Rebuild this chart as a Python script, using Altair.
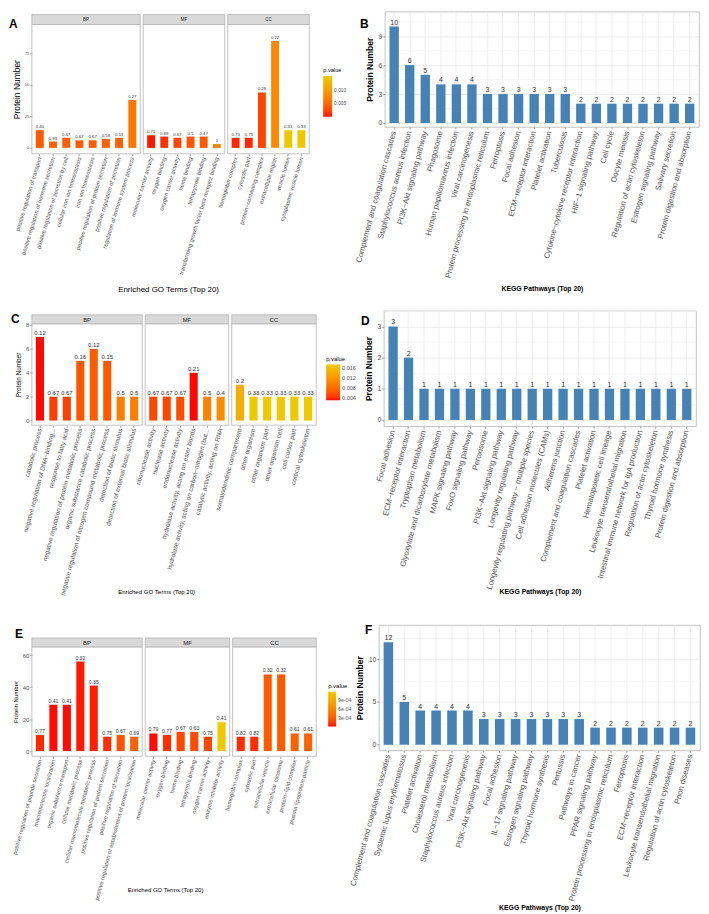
import altair as alt
import pandas as pd

FONT = "Liberation Sans"
GREY = "#555555"
BORDER = "#b3b3b3"
LOW, HIGH = "#FF0000", "#EEC900"
STEEL = "#4682B4"

# ---------------- Panel A : GO ----------------
A_BP_terms = ["positive regulation of transport", "positive regulation of hormone secretion",
              "positive regulation of secretion by cell", "cellular iron ion homeostasis",
              "iron ion homeostasis", "positive regulation of protein secretion",
              "positive regulation of secretion", "regulation of immune system process"]
A_BP_counts = [14, 5, 8, 6, 6, 7, 8, 38]
A_BP_ratio = ["0.40", "0.83", "0.67", "0.67", "0.67", "0.58", "0.53", "0.27"]
A_BP_p = [0.004, 0.0045, 0.0042, 0.0042, 0.0042, 0.0045, 0.0045, 0.0065]

A_MF_terms = ["molecular carrier activity", "oxygen binding", "oxygen carrier activity",
              "heme binding", "tetrapyrrole binding",
              "transforming growth factor beta receptor binding"]
A_MF_counts = [10, 9, 8, 9, 9, 3]
A_MF_ratio = ["0.71", "0.69", "0.67", "0.5", "0.47", "1"]
A_MF_p = [0.0005, 0.0015, 0.0025, 0.0035, 0.004, 0.0075]

A_CC_terms = ["hemoglobin complex", "cytosolic part", "protein−containing complex",
              "extracellular region", "vesicle lumen", "cytoplasmic vesicle lumen"]
A_CC_counts = [8, 8, 44, 85, 14, 14]
A_CC_ratio = ["0.73", "0.73", "0.28", "0.22", "0.33", "0.33"]
A_CC_p = [0.001, 0.001, 0.0025, 0.0085, 0.0155, 0.0155]

# ---------------- Panel B : KEGG ----------------
B_terms = ["Complement and coagulation cascades", "Staphylococcus aureus infection",
           "PI3K−Akt signaling pathway", "Phagosome", "Human papillomavirus infection",
           "Viral carcinogenesis", "Protein processing in endoplasmic reticulum", "Ferroptosis",
           "Focal adhesion", "ECM−receptor interaction", "Platelet activation", "Tuberculosis",
           "Cytokine−cytokine receptor interaction", "HIF−1 signaling pathway", "Cell cycle",
           "Oocyte meiosis", "Regulation of actin cytoskeleton", "Estrogen signaling pathway",
           "Salivary secretion", "Protein digestion and absorption"]
B_counts = [10, 6, 5, 4, 4, 4, 3, 3, 3, 3, 3, 3, 2, 2, 2, 2, 2, 2, 2, 2]

# ---------------- Panel C : GO ----------------
C_BP_terms = ["catabolic process", "negative regulation of DNA−binding...", "response to fatty acid",
              "negative regulation of protein metabolic process", "organic substance catabolic process",
              "negative regulation of nitrogen compound metabolic process",
              "detection of biotic stimulus", "detection of external biotic stimulus"]
C_BP_counts = [7, 2, 2, 5, 6, 5, 2, 2]
C_BP_ratio = ["0.12", "0.67", "0.67", "0.16", "0.12", "0.15", "0.5", "0.5"]
C_BP_p = [0.003, 0.0048, 0.0048, 0.0062, 0.0066, 0.0064, 0.0095, 0.0095]

C_MF_terms = ["ribonuclease activity", "nuclease activity", "endonuclease activity",
              "hydrolase activity, acting on ester bonds",
              "hydrolase activity, acting on carbon−nitrogen (but...",
              "catalytic activity, acting on RNA"]
C_MF_counts = [2, 2, 2, 4, 2, 2]
C_MF_ratio = ["0.67", "0.67", "0.67", "0.21", "0.5", "0.4"]
C_MF_p = [0.0052, 0.0052, 0.0056, 0.003, 0.0098, 0.0108]

C_CC_terms = ["somatodendritic compartment", "other organism", "other organism part",
              "other organism cell", "cell cortex part", "cortical cytoskeleton"]
C_CC_counts = [3, 2, 2, 2, 2, 2]
C_CC_ratio = ["0.2", "0.33", "0.33", "0.33", "0.33", "0.33"]
C_CC_p = [0.0145, 0.0175, 0.0175, 0.0175, 0.0175, 0.0175]

# ---------------- Panel D : KEGG ----------------
D_terms = ["Focal adhesion", "ECM−receptor interaction", "Tryptophan metabolism",
           "Glyoxylate and dicarboxylate metabolism", "MAPK signaling pathway",
           "FoxO signaling pathway", "Peroxisome", "PI3K−Akt signaling pathway",
           "Longevity regulating pathway", "Longevity regulating pathway − multiple species",
           "Cell adhesion molecules (CAMs)", "Adherens junction",
           "Complement and coagulation cascades", "Platelet activation",
           "Hematopoietic cell lineage", "Leukocyte transendothelial migration",
           "Intestinal immune network for IgA production", "Regulation of actin cytoskeleton",
           "Thyroid hormone synthesis", "Protein digestion and absorption"]
D_counts = [3, 2, 1, 1, 1, 1, 1, 1, 1, 1, 1, 1, 1, 1, 1, 1, 1, 1, 1, 1]

# ---------------- Panel E : GO ----------------
E_BP_terms = ["positive regulation of peptide secretion", "macromolecule localization",
              "organic substance transport", "cellular metabolic process",
              "cellular macromolecule metabolic process", "positive regulation of protein secretion",
              "positive regulation of secretion",
              "positive regulation of establishment of protein localization"]
E_BP_counts = [10, 29, 29, 56, 41, 9, 10, 9]
E_BP_ratio = ["0.77", "0.41", "0.41", "0.32", "0.35", "0.75", "0.67", "0.69"]
E_BP_p = [0.00008, 0.00003, 0.00003, 0.00005, 0.00006, 0.0001, 0.00025, 0.00035]

E_MF_terms = ["molecular carrier activity", "oxygen binding", "heme binding",
              "tetrapyrrole binding", "oxygen carrier activity", "enzyme inhibitor activity"]
E_MF_counts = [11, 10, 12, 12, 9, 18]
E_MF_ratio = ["0.79", "0.77", "0.67", "0.63", "0.75", "0.41"]
E_MF_p = [0.00003, 0.0001, 0.0002, 0.00022, 0.0002, 0.00116]

E_CC_terms = ["hemoglobin complex", "cytosolic part", "extracellular vesicle",
              "extracellular exosome", "protein−lipid complex", "plasma lipoprotein particle"]
E_CC_counts = [9, 9, 48, 48, 11, 11]
E_CC_ratio = ["0.82", "0.82", "0.32", "0.32", "0.61", "0.61"]
E_CC_p = [0.0001, 0.0001, 0.0003, 0.0003, 0.00034, 0.00034]

# ---------------- Panel F : KEGG ----------------
F_terms = ["Complement and coagulation cascades", "Systemic lupus erythematosus",
           "Platelet activation", "Cholesterol metabolism", "Staphylococcus aureus infection",
           "Viral carcinogenesis", "PI3K−Akt signaling pathway", "Focal adhesion",
           "IL−17 signaling pathway", "Estrogen signaling pathway", "Thyroid hormone synthesis",
           "Pertussis", "Pathways in cancer", "PPAR signaling pathway",
           "Protein processing in endoplasmic reticulum", "Ferroptosis",
           "ECM−receptor interaction", "Leukocyte transendothelial migration",
           "Regulation of actin cytoskeleton", "Prion diseases"]
F_counts = [12, 5, 4, 4, 4, 4, 3, 3, 3, 3, 3, 3, 3, 2, 2, 2, 2, 2, 2, 2]


def go_sub(cat, terms, counts, ratios, pvals, w, S, first, mid, last):
    df = pd.DataFrame({"term": terms, "count": counts, "ratio": ratios, "p": pvals})
    H, st, off = S["H"], S["strip"], S["off"]
    top = off + st
    xkw = dict(labelAngle=S["ang"], labelFontSize=S["xlab"], labelColor=GREY, labelLimit=400,
               labelPadding=1, tickSize=2, tickColor=GREY, tickWidth=0.6, domain=False,
               grid=False, bandPosition=0.5)
    if mid:
        xkw.update(title=S["xtitle"], titleFontSize=S["xtfs"], titleFontWeight="normal",
                   titleColor="black", titleX=S["xtx"], titleY=S["xty"], titleAlign="center",
                   titleBaseline="middle")
    else:
        xkw.update(title=None)
    x = alt.X("term:N", sort=terms, scale=alt.Scale(paddingInner=0.4, paddingOuter=0.3),
              axis=alt.Axis(**xkw))
    if first:
        yaxis = alt.Axis(values=S["yticks"], title="Protein Number", titleFontSize=S["ytfs"],
                         titleFontWeight="normal", titleColor="black", titlePadding=S["ytpad"],
                         titleY=(H + top) / 2, titleAlign="center",
                         labelFontSize=S["ylab"], labelColor=GREY, tickSize=2, tickColor=GREY,
                         tickWidth=0.6, domain=False, grid=False, labelPadding=1)
    else:
        yaxis = None
    y = alt.Y("count:Q", scale=alt.Scale(domain=S["ydom"], range=[H, top], nice=False, zero=False),
              axis=yaxis)
    if last:
        lkw = dict(title="p.value", orient="none", legendX=S["legx"], legendY=S["legy"],
                   gradientLength=S["glen"], gradientThickness=S["gth"], values=S["lvals"],
                   titleFontSize=S["ltfs"], titleFontWeight="normal", titleColor="black",
                   labelFontSize=S["llfs"], labelColor=GREY, direction="vertical",
                   gradientStrokeWidth=0, titlePadding=3, labelOffset=2)
        if "lexpr" in S:
            lkw["labelExpr"] = S["lexpr"]
        else:
            lkw["format"] = S["lfmt"]
        legend = alt.Legend(**lkw)
    else:
        legend = None
    color = alt.Color("p:Q", scale=alt.Scale(domain=S["pdom"], range=[LOW, HIGH], interpolate="lab"),
                      legend=legend)
    base = alt.Chart(df).encode(x=x, y=y)
    bars = base.mark_bar().encode(color=color)
    txt = base.mark_text(baseline="bottom", dy=-1, fontSize=S["bar"], color="#333333").encode(
        text="ratio:N")
    sdf = pd.DataFrame({"cat": [cat]})
    strip_r = alt.Chart(sdf).mark_rect(fill="#d9d9d9", stroke=BORDER, strokeWidth=0.8).encode(
        x=alt.value(0), x2=alt.value(w), y=alt.value(off), y2=alt.value(top))
    strip_t = alt.Chart(sdf).mark_text(fontSize=S["stfs"], color="#1a1a1a", baseline="middle").encode(
        x=alt.value(w / 2), y=alt.value(off + st / 2 + 0.5), text="cat:N")
    frame = alt.Chart(sdf).mark_rect(fill="white", fillOpacity=0, stroke=BORDER,
                                     strokeWidth=0.8).encode(
        x=alt.value(0), x2=alt.value(w), y=alt.value(top), y2=alt.value(H))
    layers = [bars, txt, frame, strip_r, strip_t]
    if first:
        tdf = pd.DataFrame({"tag": [S["tag"]]})
        layers.append(alt.Chart(tdf).mark_text(fontSize=12, fontWeight="bold", align="left",
                                               baseline="middle", color="black").encode(
            x=alt.value(S["tagx"]), y=alt.value(S["tagy"]), text="tag:N"))
    return alt.layer(*layers).properties(width=w, height=H,
                                         view=alt.ViewBackground(stroke="transparent"))


def go_panel(data, S):
    subs = []
    n = len(data)
    for i, (cat, terms, counts, ratios, pvals, w) in enumerate(data):
        subs.append(go_sub(cat, terms, counts, ratios, pvals, w, S, i == 0, i == 1, i == n - 1))
    return alt.hconcat(*subs, spacing=3, bounds="flush").resolve_scale(
        x="independent", y="independent", color="independent").resolve_legend(color="independent")


def kegg(terms, counts, K):
    df = pd.DataFrame({"term": terms, "count": counts})
    m = K["major"]
    x = alt.X("term:N", sort=terms, scale=alt.Scale(paddingInner=0.4, paddingOuter=0.3),
              axis=alt.Axis(title="KEGG Pathways (Top 20)", labelAngle=-75, labelFontSize=7.8,
                            labelColor=GREY, labelLimit=400, labelPadding=2, tickSize=2,
                            tickColor=GREY, tickWidth=0.6, domain=False, grid=True,
                            gridColor="#ebebeb", gridWidth=0.8, bandPosition=0.5,
                            titleFontWeight="bold", titleFontSize=6.9, titleColor="black",
                            titleY=K["xty"], titleBaseline="middle"))
    y = alt.Y("count:Q", scale=alt.Scale(domain=K["ydom"], nice=False, zero=False),
              axis=alt.Axis(values=K["yvals"], title="Protein Number", titleFontSize=8.6,
                            titleFontWeight="bold", titleColor="black", titlePadding=4,
                            labelFontSize=7, labelColor=GREY, labelPadding=1,
                            labelExpr=f"datum.value % {m} === 0 ? format(datum.value, 'd') : ''",
                            tickSize=2, tickWidth=0.6, domain=False, grid=True, gridWidth=0.8,
                            tickColor={"condition": {"test": f"datum.value % {m} !== 0",
                                                     "value": "transparent"}, "value": GREY},
                            gridColor={"condition": {"test": f"datum.value % {m} === 0",
                                                     "value": "#e6e6e6"}, "value": "#f4f4f4"}))
    base = alt.Chart(df).encode(x=x, y=y)
    bars = base.mark_bar(color=STEEL)
    txt = base.mark_text(baseline="bottom", dy=-1, fontSize=7, color="#333333").encode(
        text="count:Q")
    tdf = pd.DataFrame({"tag": [K["tag"]]})
    tag = alt.Chart(tdf).mark_text(fontSize=12, fontWeight="bold", align="left",
                                   baseline="middle", color="black").encode(
        x=alt.value(K["tagx"]), y=alt.value(K["tagy"]), text="tag:N")
    return alt.layer(bars, txt, tag).properties(width=K["w"], height=K["h"])


SA = dict(H=143, off=3, strip=10, ang=-73, ydom=[-4.7, 98], yticks=[0, 25, 50, 75], xlab=5.8,
          ylab=4.3, ytfs=8.5, ytpad=3, bar=4.3, stfs=4.5, xtitle="Enriched GO Terms (Top 20)",
          xtfs=8.0, xtx=25, xty=137, pdom=[0.0002, 0.0158], legx=96, legy=56, glen=41, gth=9,
          lvals=[0.005, 0.010], lfmt=".3f", ltfs=5.7, llfs=4.9, tag="A", tagx=-23, tagy=13)
SC = dict(H=115, off=4, strip=9, ang=-75, ydom=[-0.39, 8.1], yticks=[0, 2, 4, 6, 8], xlab=6.5,
          ylab=6, ytfs=6.4, ytpad=4, bar=6.0, stfs=5.8, xtitle="Enriched GO Terms (Top 20)",
          xtfs=6.1, xtx=11, xty=167, pdom=[0.0029, 0.0175], legx=95, legy=45, glen=36, gth=14,
          lvals=[0.004, 0.008, 0.012, 0.016], lfmt=".3f", ltfs=5.9, llfs=5.6, tag="C",
          tagx=-21, tagy=8)
SE = dict(H=132, off=13, strip=9, ang=-75, ydom=[-3.3, 65.2], yticks=[0, 20, 40, 60], xlab=5.8,
          ylab=6, ytfs=6.1, ytpad=4, bar=5.1, stfs=6, xtitle="Enriched GO Terms (Top 20)",
          xtfs=6.0, xtx=20, xty=134, pdom=[0.00002, 0.00116], legx=96, legy=58, glen=35, gth=8,
          lvals=[0.0003, 0.0006, 0.0009],
          lexpr="replace(format(datum.value, '.0e'), 'e-', 'e-0')", ltfs=6, llfs=5.2,
          tag="E", tagx=-17, tagy=9)

KB = dict(w=316, h=116, ydom=[-0.41, 11.55], yvals=[0, 1.5, 3, 4.5, 6, 7.5, 9, 10.5], major=3,
          xty=163, tag="B", tagx=-25, tagy=13)
KD = dict(w=314, h=116, ydom=[-0.2, 3.5], yvals=[0, 0.5, 1, 1.5, 2, 2.5, 3, 3.5], major=1,
          xty=166, tag="D", tagx=-23, tagy=10)
KF = dict(w=323, h=126, ydom=[-0.66, 14.0], yvals=[0, 2.5, 5, 7.5, 10, 12.5], major=5,
          xty=158, tag="F", tagx=-14, tagy=5)

goA = go_panel([("BP", A_BP_terms, A_BP_counts, A_BP_ratio, A_BP_p, 109),
                ("MF", A_MF_terms, A_MF_counts, A_MF_ratio, A_MF_p, 82),
                ("CC", A_CC_terms, A_CC_counts, A_CC_ratio, A_CC_p, 82)], SA)
goC = go_panel([("BP", C_BP_terms, C_BP_counts, C_BP_ratio, C_BP_p, 111),
                ("MF", C_MF_terms, C_MF_counts, C_MF_ratio, C_MF_p, 84),
                ("CC", C_CC_terms, C_CC_counts, C_CC_ratio, C_CC_p, 85)], SC)
goE = go_panel([("BP", E_BP_terms, E_BP_counts, E_BP_ratio, E_BP_p, 111),
                ("MF", E_MF_terms, E_MF_counts, E_MF_ratio, E_MF_p, 85),
                ("CC", E_CC_terms, E_CC_counts, E_CC_ratio, E_CC_p, 84)], SE)

kB = kegg(B_terms, B_counts, KB)
kD = kegg(D_terms, D_counts, KD)
kF = kegg(F_terms, F_counts, KF)


def res(c):
    return c.resolve_scale(x="independent", y="independent", color="independent").resolve_legend(
        color="independent")


def row(a, b, sp):
    return res(alt.hconcat(a, b, spacing=sp))


top2 = res(alt.vconcat(row(goA, kB, 6), row(goC, kD, 3), spacing=15))
chart = res(alt.vconcat(top2, row(goE, kF, -5), spacing=26)).properties(padding=0)
chart = chart.configure(font=FONT).configure_view(stroke=BORDER, strokeWidth=0.8)

chart.save("out.html", embed_options={"renderer": "svg", "actions": False})
